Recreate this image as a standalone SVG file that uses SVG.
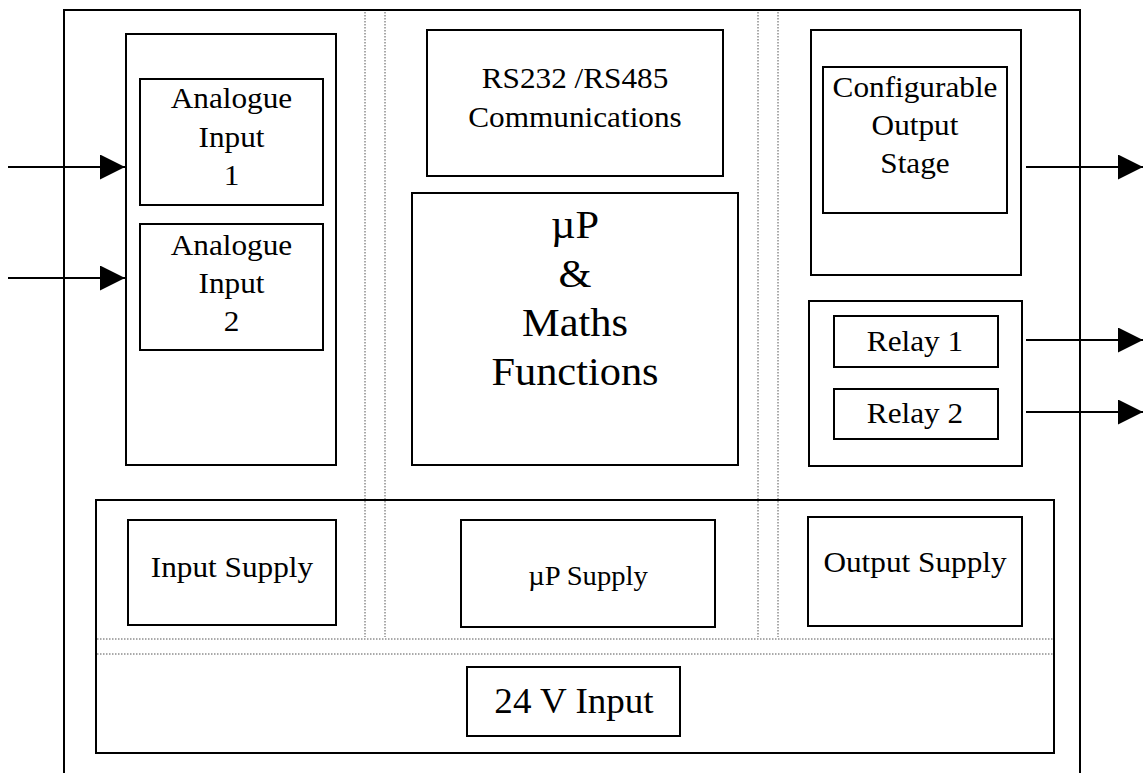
<svg xmlns="http://www.w3.org/2000/svg" width="1143" height="773" viewBox="0 0 1143 773">
<style>
.box{fill:none;stroke:#000;stroke-width:2}
.frame{fill:none;stroke:#000;stroke-width:2}
.dot{fill:none;stroke:#555;stroke-width:1;stroke-dasharray:1.5 1.5}
.conn{stroke:#000;stroke-width:2;fill:none}
text{font-family:"Liberation Serif","Times New Roman",serif;fill:#000;text-anchor:middle}
.t28{font-size:29.5px}
.t38{font-size:40px}
.t34{font-size:35px}
.t25{font-size:27px}
</style>
<defs>
<marker id="arr" markerUnits="userSpaceOnUse" markerWidth="26" markerHeight="26" refX="25" refY="12.5" orient="auto">
<path d="M0,0 L25,12.5 L0,25 Z" fill="#000"/>
</marker>
</defs>
<rect width="1143" height="773" fill="#fff"/>
<g id="frame">
<path class="frame" d="M64,773 V10 H1080 V773"/>
<path class="dot" d="M365,12 V637 M385,12 V637 M758,12 V637 M778,12 V637"/>
<path class="dot" d="M97,639 H1053" stroke="#222"/>
<path class="dot" d="M97,654 H1053" stroke="#888"/>
</g>
<g id="input-group"><rect class="box" x="126" y="34" width="210" height="431"/></g>
<g id="analogue1"><rect class="box" x="140" y="79" width="183" height="126"/>
<text class="t28" transform="translate(231.5 0) scale(1.06 1)"><tspan x="0" y="108">Analogue</tspan><tspan x="0" y="147">Input</tspan><tspan x="0" y="185">1</tspan></text></g>
<g id="analogue2"><rect class="box" x="140" y="224" width="183" height="126"/>
<text class="t28" transform="translate(231.5 0) scale(1.06 1)"><tspan x="0" y="255">Analogue</tspan><tspan x="0" y="293">Input</tspan><tspan x="0" y="331">2</tspan></text></g>
<g id="comms"><rect class="box" x="427" y="30" width="296" height="146"/>
<text class="t28" transform="translate(575 0) scale(1.06 1)"><tspan x="0" y="88">RS232 /RS485</tspan><tspan x="0" y="127">Communications</tspan></text></g>
<g id="up"><rect class="box" x="412" y="193" width="326" height="272"/>
<text class="t38" transform="translate(575 0) scale(1.06 1)"><tspan x="0" y="238">µP</tspan><tspan x="0" y="287">&amp;</tspan><tspan x="0" y="336">Maths</tspan><tspan x="0" y="385">Functions</tspan></text></g>
<g id="output-group"><rect class="box" x="811" y="30" width="210" height="245"/></g>
<g id="configurable"><rect class="box" x="823" y="67" width="184" height="146"/>
<text class="t28" transform="translate(915 0) scale(1.06 1)"><tspan x="0" y="97">Configurable</tspan><tspan x="0" y="135">Output</tspan><tspan x="0" y="173">Stage</tspan></text></g>
<g id="relay-group"><rect class="box" x="809" y="301" width="213" height="165"/></g>
<g id="relay1"><rect class="box" x="834" y="316" width="164" height="51"/>
<text class="t28" transform="translate(915 0) scale(1.06 1)" x="0" y="351">Relay 1</text></g>
<g id="relay2"><rect class="box" x="834" y="389" width="164" height="50"/>
<text class="t28" transform="translate(915 0) scale(1.06 1)" x="0" y="423">Relay 2</text></g>
<g id="supply-group"><rect class="box" x="96" y="500" width="958" height="253"/></g>
<g id="input-supply"><rect class="box" x="128" y="520" width="208" height="105"/>
<text class="t28" transform="translate(232 0) scale(1.06 1)" x="0" y="577">Input Supply</text></g>
<g id="up-supply"><rect class="box" x="461" y="520" width="254" height="107"/>
<text class="t25" transform="translate(588 0) scale(1.06 1)" x="0" y="585">µP Supply</text></g>
<g id="output-supply"><rect class="box" x="808" y="517" width="214" height="109"/>
<text class="t28" transform="translate(915 0) scale(1.06 1)" x="0" y="572">Output Supply</text></g>
<g id="v24"><rect class="box" x="467" y="667" width="213" height="69"/>
<text class="t34" transform="translate(574 0) scale(1.06 1)" x="0" y="713">24 V Input</text></g>
<g id="connectors">
<line class="conn" x1="8" y1="167" x2="125" y2="167" marker-end="url(#arr)"/>
<line class="conn" x1="8" y1="278" x2="125" y2="278" marker-end="url(#arr)"/>
<line class="conn" x1="1026" y1="167" x2="1143" y2="167" marker-end="url(#arr)"/>
<line class="conn" x1="1026" y1="340" x2="1143" y2="340" marker-end="url(#arr)"/>
<line class="conn" x1="1026" y1="412" x2="1143" y2="412" marker-end="url(#arr)"/>
</g>
</svg>
